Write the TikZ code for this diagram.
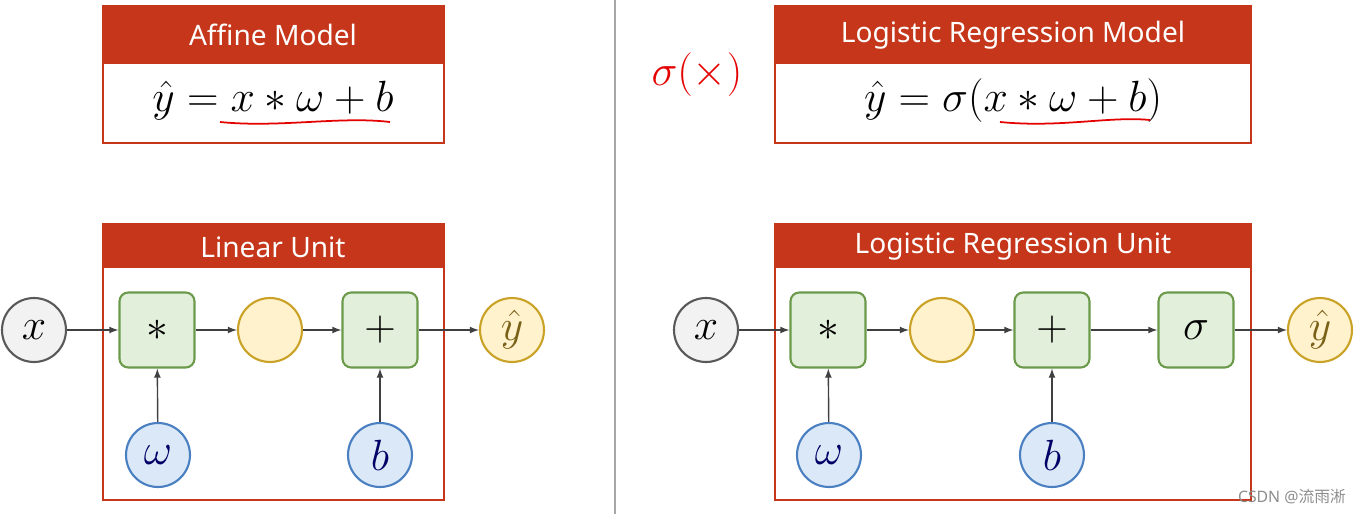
\documentclass[tikz,border=0pt]{standalone}
\usepackage{fontspec}
\setmainfont{Noto Sans}
\newfontfamily\cjk{Noto Sans CJK SC}
\usepackage{amsmath}
\definecolor{hred}{HTML}{C5361A}
\definecolor{gfill}{HTML}{E2EFDA}
\definecolor{gline}{HTML}{6B9A4B}
\definecolor{yfill}{HTML}{FFF2CC}
\definecolor{yline}{HTML}{C9A227}
\definecolor{bfill}{HTML}{DAE8F7}
\definecolor{bline}{HTML}{4A7FC1}
\begin{document}
\begin{tikzpicture}[x=0.02cm,y=-0.02cm,
  hdr/.style={fill=hred},
  frame/.style={draw=hred, line width=1pt},
  htext/.style={text=white, font=\fontsize{16}{19}\selectfont},
  op/.style={draw=gline, fill=gfill, line width=1.2pt, rounded corners=5pt, minimum width=1.5cm, minimum height=1.5cm, font=\fontsize{24}{26}\selectfont},
  yc/.style={circle, draw=yline, fill=yfill, line width=1.2pt, minimum size=1.28cm, font=\fontsize{24}{26}\selectfont, text=yline!60!black},
  bc/.style={circle, draw=bline, fill=bfill, line width=1.2pt, minimum size=1.28cm, font=\fontsize{24}{26}\selectfont, text=blue!40!black},
  gc/.style={circle, draw=black!65, fill=black!5, line width=1.2pt, minimum size=1.28cm, font=\fontsize{24}{26}\selectfont},
  arr/.style={-latex, draw=black!75, line width=0.8pt},
  ul/.style={draw=red!90!black, line width=1pt}]
\useasboundingbox (0,0) rectangle (1357,514);
\draw[black!35, line width=0.6pt] (615,0) -- (615,514);
% left titles
\fill[hdr] (103,6) rectangle (444,64);
\draw[frame] (103,6) rectangle (444,143);
\node[htext] (t1) at (273,35) {Affine Model};
\node[font=\fontsize{24}{26}\selectfont] (f1) at (273,101) {$\hat y = x * \omega + b$};
\draw[ul] (220,122) .. controls (280,128) and (340,116) .. (390,122);
\fill[hdr] (103,224) rectangle (444,268);
\draw[frame] (103,224) rectangle (444,500);
\node[htext] (t2) at (273,247) {Linear Unit};
\node[gc] (x1) at (34,330) {$x$};
\node[op] (m1) at (157,330) {$*$};
\node[yc] (y1) at (270,330) {};
\node[op] (p1) at (380,330) {$+$};
\node[yc] (o1) at (512,330) {$\hat y$};
\node[bc] (w1) at (158,455) {$\omega$};
\node[bc] (b1) at (380,455) {$b$};
\draw[arr] (x1)--(m1); \draw[arr] (m1)--(y1); \draw[arr] (y1)--(p1); \draw[arr] (p1)--(o1);
\draw[arr] (w1)--(m1); \draw[arr] (b1)--(p1);
% right
\node[text=red!90!black, font=\fontsize{28}{30}\selectfont] (sx) at (697,75) {$\sigma(\times)$};
\fill[hdr] (775,6) rectangle (1251,64);
\draw[frame] (775,6) rectangle (1251,143);
\node[htext] (t3) at (1013,35) {Logistic Regression Model};
\node[font=\fontsize{24}{26}\selectfont] (f2) at (1013,101) {$\hat y = \sigma(x * \omega + b)$};
\draw[ul] (1000,122) .. controls (1060,128) and (1110,116) .. (1150,120);
\fill[hdr] (775,224) rectangle (1251,268);
\draw[frame] (775,224) rectangle (1251,500);
\node[htext] (t4) at (1013,247) {Logistic Regression Unit};
\node[gc] (x2) at (706,330) {$x$};
\node[op] (m2) at (828,330) {$*$};
\node[yc] (y2) at (942,330) {};
\node[op] (p2) at (1052,330) {$+$};
\node[op] (s2) at (1196,330) {$\sigma$};
\node[yc] (o2) at (1320,330) {$\hat y$};
\node[bc] (w2) at (829,455) {$\omega$};
\node[bc] (b2) at (1052,455) {$b$};
\draw[arr] (x2)--(m2); \draw[arr] (m2)--(y2); \draw[arr] (y2)--(p2); \draw[arr] (p2)--(s2); \draw[arr] (s2)--(o2);
\draw[arr] (w2)--(m2); \draw[arr] (b2)--(p2);
\node[text=black!45, font=\fontsize{9}{10}\selectfont] (wm) at (1292,497) {CSDN @{\cjk 流雨淅}};
\end{tikzpicture}
\end{document}
